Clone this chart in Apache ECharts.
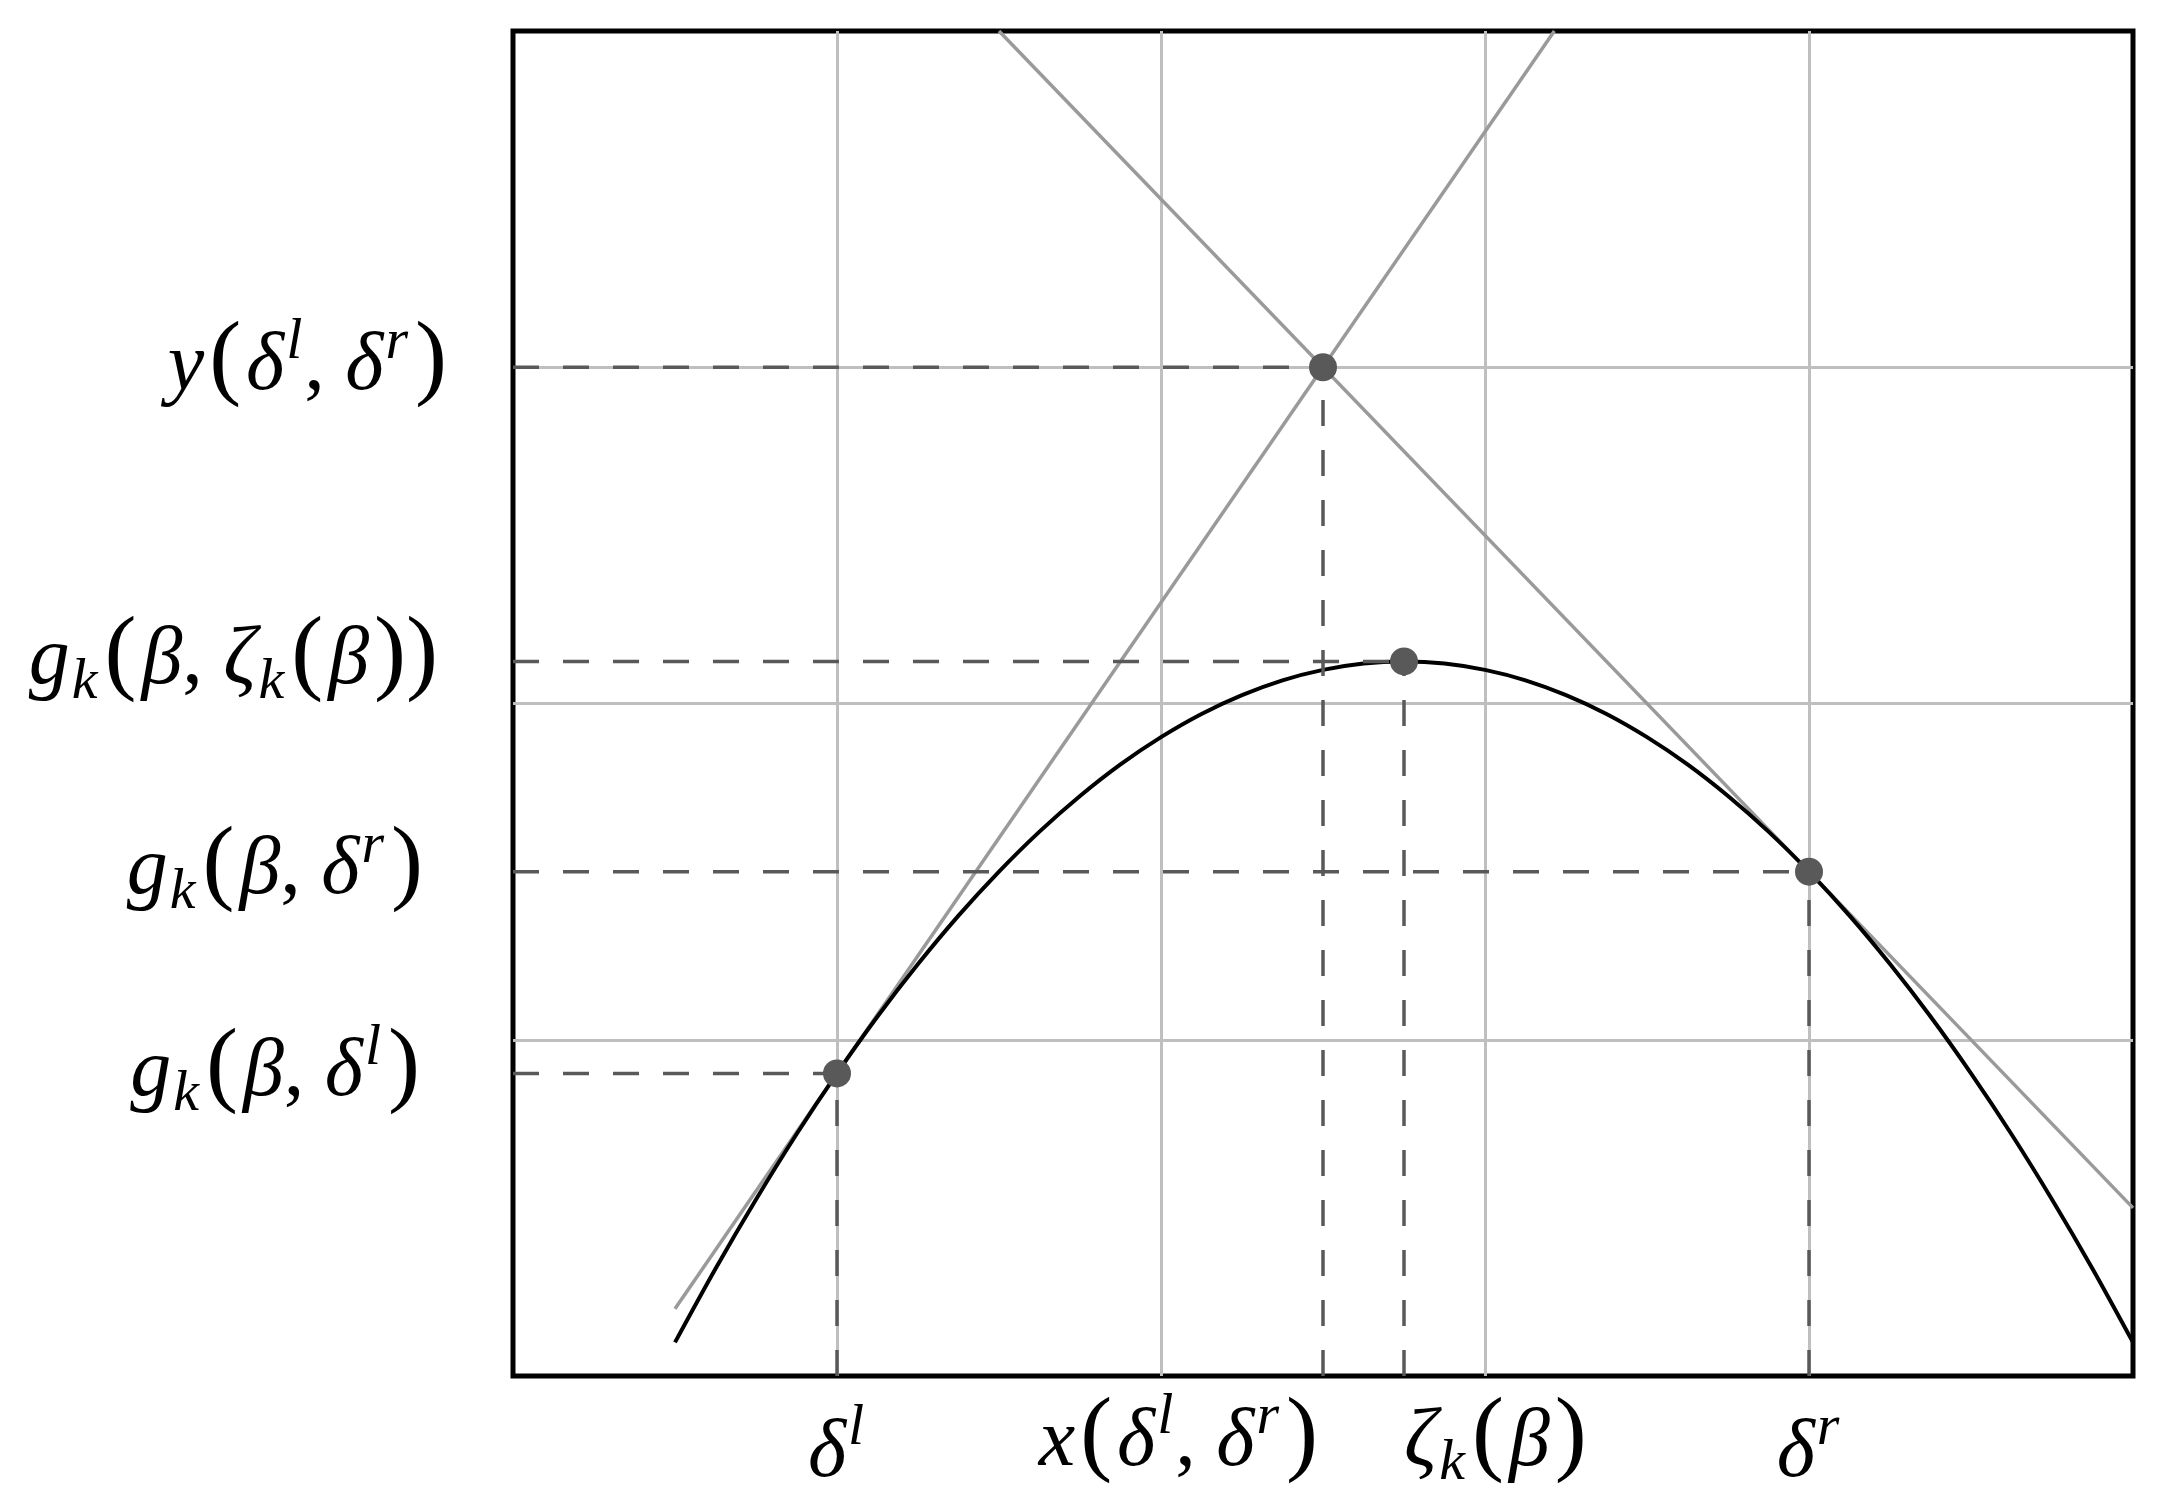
<!DOCTYPE html>
<html>
<head>
<meta charset="utf-8">
<script src="https://cdn.jsdelivr.net/npm/echarts@6/dist/echarts.min.js"></script>
<style>
  html, body { margin: 0; padding: 0; background: #fff; }
  #chart { width: 2159px; height: 1509px; }
</style>
</head>
<body>
<div id="chart"></div>
<script>
// ---- data ----
const curveX = [0.5, 0.625, 0.75, 0.875, 1.0, 1.125, 1.25, 1.375, 1.5, 1.625, 1.75, 1.875, 2.0, 2.125, 2.25, 2.375, 2.5, 2.625,
                2.75, 2.875, 3.0, 3.125, 3.25, 3.375, 3.5, 3.625, 3.75, 3.875, 4.0, 4.125, 4.25, 4.375, 4.5, 4.625, 4.75, 4.875, 5.0];
const curveY = [0.1, 0.319, 0.525, 0.719, 0.9, 1.069, 1.225, 1.369, 1.5, 1.619, 1.725, 1.819, 1.9, 1.969, 2.025, 2.069, 2.1, 2.119,
                2.125, 2.119, 2.1, 2.069, 2.025, 1.969, 1.9, 1.819, 1.725, 1.619, 1.5, 1.369, 1.225, 1.069, 0.9, 0.719, 0.525, 0.319, 0.1];
const tangentLeft = [[0.5, 0.2], [3.214, 4.0]];
const tangentRight = [[1.5, 4.0], [5.0, 0.5]];
const keyPointsX = [1.0, 2.5, 2.75, 4.0];
const keyPointsY = [0.9, 3.0, 2.125, 1.5];

// tick labels
const xLabelCenter = [1.0, 4.0];
const xLabelCenterText = ['{i|δ}{sup|l}', '{i|δ}{sup|r}'];
const xLabelRight = [2.5];
const xLabelRightText = ['{i|x}{u|(}{i|δ}{sup|l}{c|, }{i|δ}{sup|r}{u|)}'];
const xLabelLeft = [2.75];
const xLabelLeftText = ['{i|ζ}{sub|k}{u|(}{i|β}{u|)}'];
const yLabelValues = [0.9, 1.5, 2.125, 3.0];
const yLabelText = [
  '{i|g}{sub|k}{u|(}{i|β}{c|, }{i|δ}{sup|l}{u|)}{s3| }',
  '{i|g}{sub|k}{u|(}{i|β}{c|, }{i|δ}{sup|r}{u|)}{s2| }',
  '{i|g}{sub|k}{u|(}{i|β}{c|, }{i|ζ}{sub|k}{u|(}{i|β}{u|))}{s1| }',
  '{i|y}{u|(}{i|δ}{sup|l}{c|, }{i|δ}{sup|r}{u|)}'
];

// ---- styling ----
const F = 'Liberation Serif';
const rich = {
  i:   { fontFamily: F, fontStyle: 'italic', fontSize: 82, lineHeight: 100, color: '#000' },
  u:   { fontFamily: F, fontSize: 96, lineHeight: 100, padding: [0, 5, 10, 5], color: '#000' },
  c:   { fontFamily: F, fontSize: 82, lineHeight: 100, color: '#000' },
  sup: { fontFamily: F, fontStyle: 'italic', fontSize: 58, lineHeight: 100, padding: [0, 2, 50, 2], color: '#000' },
  sub: { fontFamily: F, fontStyle: 'italic', fontSize: 58, lineHeight: 100, padding: [42, 2, 0, 2], color: '#000' },
  s1:  { width: 9, lineHeight: 100 },
  s2:  { width: 24, lineHeight: 100 },
  s3:  { width: 27, lineHeight: 100 }
};

function labelMap(values, texts) {
  return function (v) {
    for (let i = 0; i < values.length; i++) {
      if (Math.abs(values[i] - v) < 1e-6) return texts[i];
    }
    return '';
  };
}

const GRID = '#bfbfbf', TAN = '#9a9a9a', DARK = '#595959';

const hiddenX = (vals, texts, align, margin) => ({
  type: 'value', min: 0, max: 5, position: 'bottom', offset: 0,
  axisLine: { show: false }, axisTick: { show: false }, splitLine: { show: false },
  axisLabel: { customValues: vals, formatter: labelMap(vals, texts), align: align, margin: margin, rich: rich }
});

const dashH = keyPointsX.map((x, i) => [[0, keyPointsY[i]], [x, keyPointsY[i]]]);
const dashV = keyPointsX.map((x, i) => [[x, 0], [x, keyPointsY[i]]]);

const series = [];
series.push({ type: 'line', data: tangentLeft, symbol: 'none', z: 2, lineStyle: { color: TAN, width: 3.5 }, silent: true });
series.push({ type: 'line', data: tangentRight, symbol: 'none', z: 2, lineStyle: { color: TAN, width: 3.5 }, silent: true });
series.push({ type: 'line', data: curveX.map((x, i) => [x, curveY[i]]), symbol: 'none', smooth: 0.3, z: 3,
  lineStyle: { color: '#000', width: 4 }, silent: true });
dashH.concat(dashV).forEach(seg => series.push({
  type: 'line', data: seg, symbol: 'none', z: 4, silent: true,
  lineStyle: { color: DARK, width: 3.5, type: [26, 24] }
}));
series.push({ type: 'scatter', data: keyPointsX.map((x, i) => [x, keyPointsY[i]]), symbolSize: 28, z: 5,
  itemStyle: { color: DARK, opacity: 1 }, silent: true });

const chart = echarts.init(document.getElementById('chart'), null, { renderer: 'canvas' });
chart.setOption({
  animation: false,
  backgroundColor: '#fff',
  grid: { left: 513, right: 26, top: 31, bottom: 133, show: true, borderColor: '#000', borderWidth: 5,
          outerBoundsMode: 'none' },
  xAxis: [
    {
      type: 'value', min: 0, max: 5, interval: 1, position: 'bottom',
      axisLine: { show: false }, axisTick: { show: false },
      splitLine: { show: true, showMinLine: false, showMaxLine: false, lineStyle: { color: GRID, width: 3 } },
      axisLabel: { customValues: xLabelCenter, formatter: labelMap(xLabelCenter, xLabelCenterText), margin: 28, rich: rich }
    },
    hiddenX(xLabelRight, xLabelRightText, 'right', 17),
    hiddenX(xLabelLeft, xLabelLeftText, 'left', 17)
  ],
  yAxis: {
    type: 'value', min: 0, max: 4, interval: 1,
    axisLine: { show: false }, axisTick: { show: false },
    splitLine: { show: true, showMinLine: false, showMaxLine: false, lineStyle: { color: GRID, width: 3 } },
    axisLabel: { customValues: yLabelValues, formatter: labelMap(yLabelValues, yLabelText), margin: 61, align: 'right', rich: rich }
  },
  series: series
});
</script>
</body>
</html>
